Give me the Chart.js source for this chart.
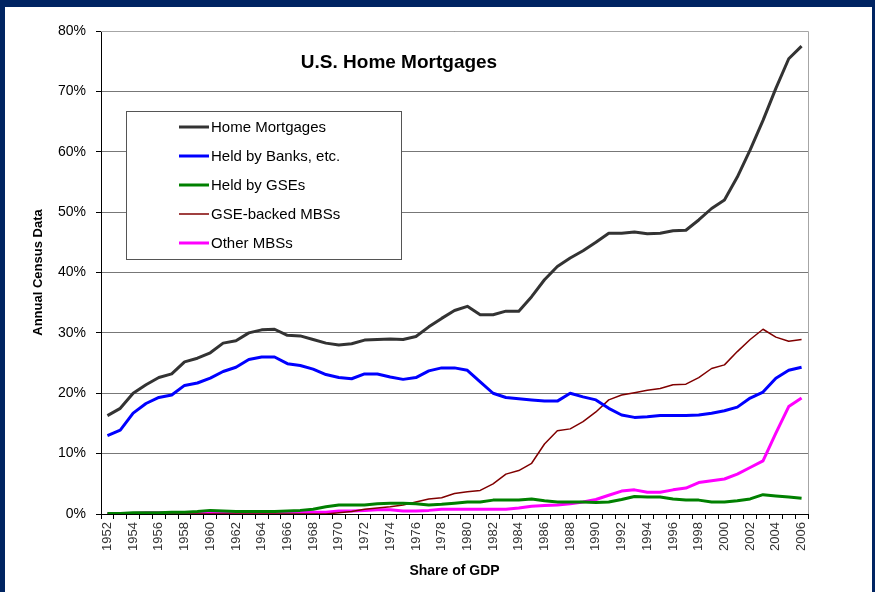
<!DOCTYPE html>
<html>
<head>
<meta charset="utf-8">
<script src="https://cdn.jsdelivr.net/npm/chart.js@4/dist/chart.umd.min.js"></script>
<style>
  html, body { margin: 0; padding: 0; background: #002462; }
  #wrap { width: 875px; height: 592px; position: relative; }
</style>
</head>
<body>
<div id="wrap"><canvas id="chart" width="875" height="592"></canvas></div>
<script>
// === Datos (% del PIB) ===
const years = [];
for (let y = 1952; y <= 2006; y++) years.push(String(y));

const homeMortgages = [
  16.3, 17.5, 20.0, 21.4, 22.6, 23.2, 25.2, 25.8, 26.7, 28.3,
  28.7, 30.0, 30.5, 30.6, 29.6, 29.5, 28.9, 28.3, 28.0, 28.2,
  28.8, 28.9, 29.0, 28.9, 29.4, 31.0, 32.4, 33.7, 34.4, 33.0,
  33.0, 33.6, 33.6, 36.0, 38.8, 41.0, 42.4, 43.6, 45.0, 46.5,
  46.5, 46.7, 46.4, 46.5, 46.9, 47.0, 48.7, 50.6, 52.0, 55.8,
  60.3, 65.2, 70.5, 75.4, 77.5
];
const heldByBanks = [
  13.0, 13.9, 16.7, 18.3, 19.3, 19.7, 21.3, 21.7, 22.5, 23.6,
  24.3, 25.6, 26.0, 26.0, 24.9, 24.6, 24.0, 23.1, 22.6, 22.4,
  23.2, 23.2, 22.7, 22.3, 22.6, 23.7, 24.2, 24.2, 23.8, 21.9,
  20.0, 19.3, 19.1, 18.9, 18.7, 18.7, 20.0, 19.4, 18.9, 17.5,
  16.4, 16.0, 16.1, 16.3, 16.3, 16.3, 16.4, 16.7, 17.1, 17.7,
  19.2, 20.2, 22.5, 23.8, 24.3
];
const heldByGSEs = [
  0.1, 0.1, 0.2, 0.2, 0.2, 0.3, 0.3, 0.4, 0.6, 0.5,
  0.4, 0.4, 0.4, 0.4, 0.5, 0.6, 0.8, 1.2, 1.5, 1.5,
  1.5, 1.7, 1.8, 1.8, 1.7, 1.5, 1.6, 1.8, 2.0, 2.0,
  2.3, 2.3, 2.3, 2.5, 2.2, 2.0, 2.0, 2.0, 1.9, 2.0,
  2.4, 2.9, 2.8, 2.8, 2.5, 2.3, 2.3, 2.0, 2.0, 2.2,
  2.5, 3.2, 3.0, 2.8, 2.6
];
const gseBackedMBS = [
  0.0, 0.0, 0.0, 0.0, 0.0, 0.0, 0.0, 0.0, 0.0, 0.0,
  0.0, 0.0, 0.0, 0.0, 0.0, 0.0, 0.0, 0.0, 0.2, 0.4,
  0.8, 1.0, 1.2, 1.5, 2.0, 2.5, 2.7, 3.4, 3.7, 3.9,
  5.0, 6.6, 7.2, 8.4, 11.6, 13.8, 14.1, 15.3, 16.9, 18.9,
  19.7, 20.1, 20.5, 20.8, 21.4, 21.5, 22.6, 24.1, 24.7, 26.9,
  28.9, 30.6, 29.3, 28.6, 28.9
];
const otherMBS = [
  0.1, 0.1, 0.1, 0.2, 0.2, 0.2, 0.2, 0.2, 0.2, 0.2,
  0.3, 0.3, 0.3, 0.3, 0.3, 0.3, 0.3, 0.3, 0.5, 0.5,
  0.6, 0.7, 0.7, 0.5, 0.5, 0.6, 0.8, 0.8, 0.8, 0.8,
  0.8, 0.8, 1.0, 1.3, 1.4, 1.5, 1.7, 2.0, 2.4, 3.1,
  3.8, 4.0, 3.6, 3.6, 4.0, 4.3, 5.2, 5.5, 5.8, 6.6,
  7.7, 8.8, 13.4, 17.8, 19.2
];

const seriesNames = ["Home Mortgages", "Held by Banks, etc.", "Held by GSEs", "GSE-backed MBSs", "Other MBSs"];
const seriesColors = ["#333333", "#0000FF", "#008000", "#800000", "#FF00FF"];
const seriesWidths = [3, 3, 3, 1.5, 3];
const seriesData = [homeMortgages, heldByBanks, heldByGSEs, gseBackedMBS, otherMBS];

const FONT = "'Liberation Sans', Arial, sans-serif";

// Marco azul + fondo blanco
const framePlugin = {
  id: "frame",
  beforeDraw(chart){
    const c = chart.ctx;
    c.save();
    c.fillStyle = "#002462";
    c.fillRect(0, 0, chart.width, chart.height);
    c.fillStyle = "#ffffff";
    c.fillRect(5, 7, 867, chart.height - 7);
    c.restore();
  }
};

// Título y leyenda dentro del área del gráfico
const overlayPlugin = {
  id: "overlay",
  beforeDatasetsDraw(chart){
    const c = chart.ctx;
    const a = chart.chartArea;
    c.save();
    // borde superior/derecho gris claro
    c.strokeStyle = "#A6A6A6";
    c.lineWidth = 1;
    c.beginPath();
    c.moveTo(a.left, a.top + 0.5);
    c.lineTo(a.right + 0.5, a.top + 0.5);
    c.lineTo(a.right + 0.5, a.bottom);
    c.stroke();
    // caja de leyenda
    c.fillStyle = "#ffffff";
    c.fillRect(126, 111, 276, 149);
    c.strokeStyle = "#555555";
    c.strokeRect(126.5, 111.5, 275, 148);
    c.font = "15px " + FONT;
    c.textBaseline = "middle";
    c.textAlign = "left";
    seriesNames.forEach((name, i) => {
      const y = 127 + i * 29;
      c.strokeStyle = seriesColors[i];
      c.lineWidth = seriesWidths[i];
      c.beginPath();
      c.moveTo(179, y);
      c.lineTo(209, y);
      c.stroke();
      c.fillStyle = "#000";
      c.fillText(name, 211, y + 1);
    });
    // título
    c.font = "bold 19px " + FONT;
    c.textAlign = "center";
    c.fillText("U.S. Home Mortgages", 399, 63);
    c.restore();
  }
};

new Chart(document.getElementById("chart"), {
  type: "line",
  data: {
    labels: years,
    datasets: seriesData.map((d, i) => ({
      label: seriesNames[i],
      data: d,
      borderColor: seriesColors[i],
      borderWidth: seriesWidths[i],
      pointRadius: 0,
      tension: 0,
      fill: false,
      borderJoinStyle: "round"
    }))
  },
  options: {
    responsive: false,
    animation: false,
    layout: { padding: { left: 0, right: 67, top: 31, bottom: 0 } },
    plugins: { legend: { display: false }, title: { display: false }, tooltip: { enabled: false } },
    scales: {
      x: {
        offset: true,
        afterFit: s => { s.height = 78; },
        grid: { offset: true, drawOnChartArea: false, tickLength: 5, tickColor: "#000" },
        border: { color: "#000" },
        ticks: {
          autoSkip: false,
          minRotation: 90,
          maxRotation: 90,
          padding: 3,
          color: "#333",
          font: { family: FONT, size: 13 },
          callback: function(v, i){ return i % 2 === 0 ? this.getLabelForValue(v) : ""; }
        },
        title: {
          display: true,
          text: "Share of GDP",
          color: "#000",
          font: { family: FONT, size: 14, weight: "bold" },
          padding: { top: 0, bottom: 12 }
        }
      },
      y: {
        min: 0,
        max: 80,
        afterFit: s => { s.width = 101; },
        grid: { color: "#777", tickLength: 5, tickColor: "#000" },
        border: { color: "#000" },
        ticks: {
          stepSize: 10,
          padding: 10,
          color: "#000",
          font: { family: FONT, size: 14 },
          callback: v => v + "%"
        },
        title: {
          display: true,
          text: "Annual Census Data",
          color: "#000",
          font: { family: FONT, size: 13, weight: "bold" },
          padding: { top: 31, bottom: 0 }
        }
      }
    }
  },
  plugins: [framePlugin, overlayPlugin]
});
</script>
</body>
</html>
